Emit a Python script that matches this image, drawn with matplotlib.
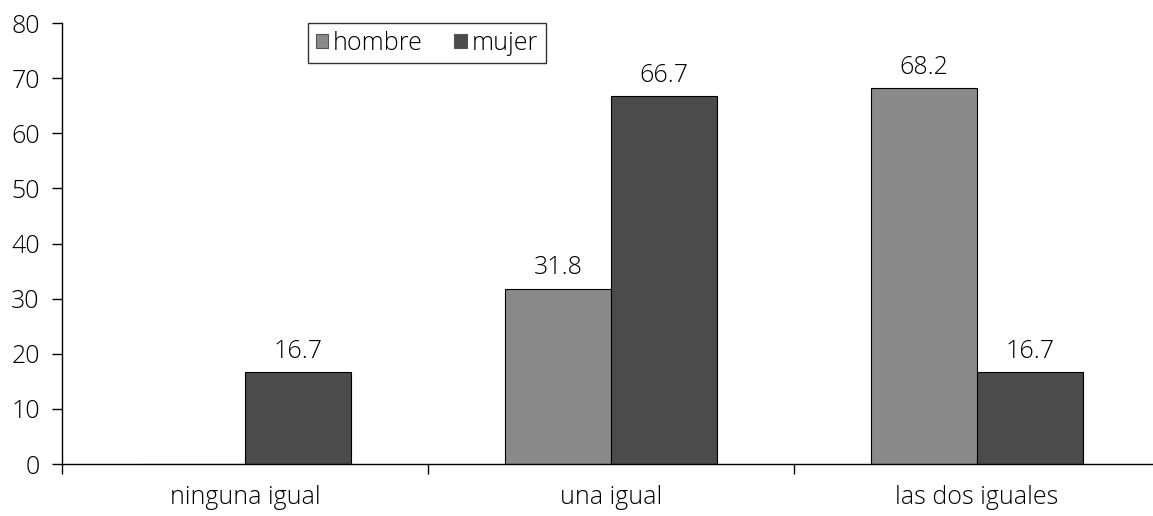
import numpy as np
import matplotlib.pyplot as plt

categories = ['ninguna igual', 'una igual', 'las dos iguales']
hombre = [0, 31.8, 68.2]
mujer = [16.7, 66.7, 16.7]
hombre_labels = ['', '31.8', '68.2']
mujer_labels = ['16.7', '66.7', '16.7']

plt.rcParams['font.family'] = ['Open Sans', 'DejaVu Sans']
plt.rcParams['font.size'] = 18
plt.rcParams['font.weight'] = 'light'

fig = plt.figure(figsize=(11.53, 5.16), dpi=100)
ax = fig.add_axes([62 / 1153, 52 / 516, 1098 / 1153, 441 / 516])

x = np.arange(len(categories))
w = 0.29
b1 = ax.bar(x - w / 2, hombre, w, color='#8a8a8a', edgecolor='#000000', linewidth=0.8, label='hombre')
b2 = ax.bar(x + w / 2, mujer, w, color='#4b4b4b', edgecolor='#000000', linewidth=0.8, label='mujer')

ax.bar_label(b1, labels=hombre_labels, padding=6, fontsize=18)
ax.bar_label(b2, labels=mujer_labels, padding=6, fontsize=18)

ax.set_xlim(-0.5, 2.5)
ax.set_ylim(0, 80)
ax.set_yticks(range(0, 81, 10))
ax.set_xticks([-0.5, 0.5, 1.5], minor=False)
ax.set_xticklabels([])
ax.set_xticks(x, minor=True)
ax.set_xticklabels(categories, minor=True)
ax.tick_params(axis='x', which='minor', length=0, pad=15)
ax.tick_params(axis='x', which='major', length=7, width=1, direction='out')
ax.tick_params(axis='y', length=7, width=1, direction='out', pad=9)

for s in ['top', 'right']:
    ax.spines[s].set_visible(False)
for s in ['left', 'bottom']:
    ax.spines[s].set_linewidth(1)

leg = ax.legend(loc='upper left', bbox_to_anchor=((308 - 62) / 1098, 1.0), ncol=2,
                frameon=True, fancybox=False, edgecolor='black', fontsize=18,
                handlelength=0.5, handleheight=0.5, handletextpad=0.2,
                columnspacing=1.25, borderpad=0.3, borderaxespad=0)
leg.get_frame().set_linewidth(1)
for h in leg.legend_handles:
    h.set_edgecolor('#555555')

fig.savefig('out.png', dpi=100)
